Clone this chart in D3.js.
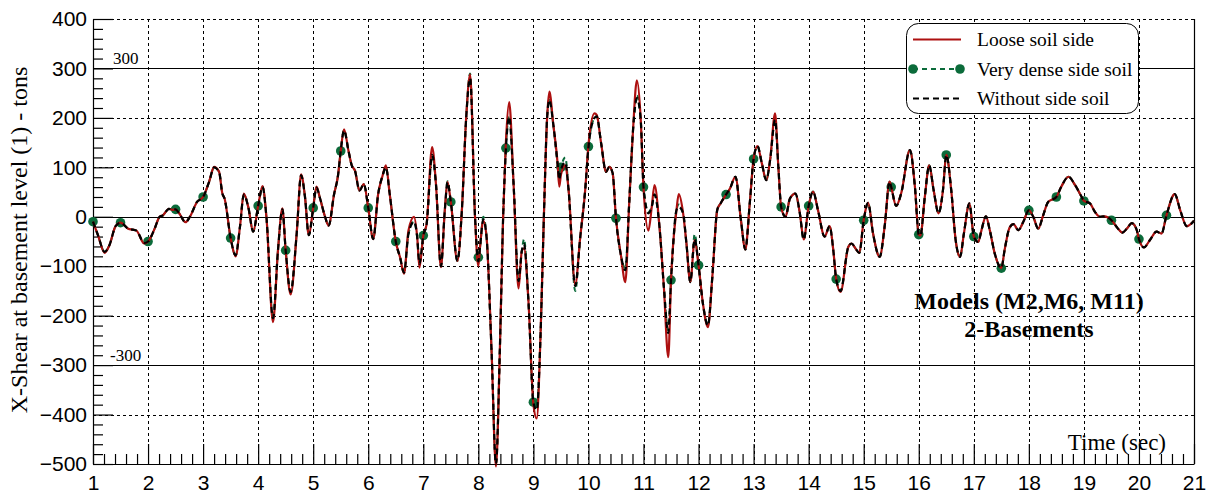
<!DOCTYPE html>
<html>
<head>
<meta charset="utf-8">
<script src="https://cdn.jsdelivr.net/npm/d3@7"></script>
<style>
  body { margin: 0; background: #fff; }
  svg { display: block; }
</style>
</head>
<body>
<svg id="chart" width="1211" height="493"></svg>
<script>
// Time samples (sec), grouped by second
const time = [
  [1.00,1.09,1.21,1.30,1.41,1.50,1.64,1.72,1.79,1.93],
  [2.00,2.12,2.21,2.27,2.38,2.44,2.50,2.56,2.68,2.76,2.89],
  [3.00,3.11,3.20,3.29,3.35,3.39,3.50,3.59,3.67,3.74,3.82,3.91],
  [4.00,4.08,4.15,4.27,4.36,4.44,4.50,4.59,4.70,4.78,4.85,4.92],
  [5.00,5.06,5.12,5.21,5.28,5.38,5.45,5.50,5.56,5.64,5.70,5.76,5.84,5.92],
  [6.00,6.09,6.18,6.26,6.32,6.39,6.50,6.58,6.65,6.73,6.83,6.89,6.93],
  [7.00,7.06,7.16,7.23,7.32,7.39,7.44,7.50,7.62,7.70,7.78,7.85,7.94],
  [8.00,8.03,8.09,8.15,8.24,8.32,8.39,8.45,8.50,8.56,8.64,8.73,8.79,8.83,8.91],
  [9.00,9.06,9.13,9.19,9.25,9.29,9.36,9.44,9.47,9.50,9.58,9.64,9.76,9.85,9.94],
  [10.00,10.11,10.15,10.23,10.32,10.38,10.44,10.50,10.59,10.67,10.74,10.81,10.88,10.95],
  [11.00,11.09,11.15,11.20,11.29,11.37,11.45,11.50,11.60,11.64,11.72,11.78,11.85,11.93],
  [12.00,12.08,12.17,12.25,12.34,12.40,12.50,12.57,12.67,12.77,12.85,12.93],
  [13.00,13.07,13.15,13.23,13.30,13.39,13.45,13.50,13.58,13.66,13.76,13.84,13.91],
  [14.00,14.08,14.17,14.29,14.38,14.45,14.50,14.58,14.72,14.78,14.85,14.92],
  [15.00,15.08,15.17,15.29,15.38,15.47,15.50,15.59,15.68,15.84,15.93],
  [16.00,16.03,16.11,16.19,16.27,16.36,16.44,16.50,16.59,16.67,16.75,16.82,16.92],
  [17.00,17.08,17.14,17.22,17.29,17.38,17.50,17.56,17.65,17.72,17.81,17.90],
  [18.00,18.08,18.17,18.26,18.35,18.50,18.59,18.72,18.84,18.96],
  [19.00,19.11,19.20,19.29,19.38,19.50,19.62,19.70,19.78,19.87,19.96],
  [20.00,20.09,20.20,20.32,20.41,20.50,20.65,20.75,20.87,21.00]
].flat();

// X-shear (tons) — model without side soil
const withoutSoil = [
  [-10,-37,-71,-57,-19,-12,-24,-26,-28,-53],
  [-50,-24,0,3,16,14,15,8,-11,0,30],
  [40,71,100,91,47,37,-43,-78,-20,45,20,-30],
  [22,60,0,-205,-68,15,-68,-152,-34,84,41,-37],
  [18,59,39,2,-18,46,83,133,175,134,104,93,53,66],
  [18,-45,46,83,100,46,-50,-83,-113,-35,-10,-42,-95],
  [-38,-15,125,66,-100,12,70,30,-89,12,202,280,-1],
  [-90,-62,-5,-42,-272,-500,-272,-1,135,202,66,-130,-69,-55,-171],
  [-375,-391,-238,-1,202,236,188,107,75,95,110,53,-140,-42,53],
  [140,200,203,149,91,101,88,-3,-78,-108,27,176,240,196],
  [60,7,20,45,-20,-142,-235,-128,14,20,7,-54,-132,-45],
  [-98,-176,-220,-122,14,27,45,57,81,-7,-66,27],
  [117,143,108,74,115,196,100,20,0,37,47,7,-46],
  [22,51,13,-40,-19,-70,-126,-150,-61,-54,-64,-73],
  [-7,28,-34,-81,-20,71,60,22,47,135,61],
  [-36,-38,40,104,54,7,54,125,54,-47,-81,-34,27],
  [-40,-51,-27,1,-27,-74,-104,-67,-22,-15,-27,-10],
  [13,0,-24,3,30,40,61,81,64,40],
  [32,27,10,0,1,-7,-24,-32,-24,-13,-27],
  [-45,-62,-47,-30,-34,3,46,13,-19,-8]
].flat();

// X-shear (tons) — loose soil side
const looseSoil = [
  [-10,-37,-73,-57,-19,-12,-24,-26,-28,-54],
  [-50,-24,0,3,16,14,15,8,-11,0,30],
  [40,71,101,91,47,37,-43,-80,-20,47,20,-30],
  [22,62,0,-213,-68,17,-68,-157,-34,86,41,-37],
  [18,61,39,2,-18,46,83,133,177,134,104,93,53,66],
  [18,-45,46,83,104,46,-50,-83,-115,-28,0,-42,-103],
  [-38,-15,141,66,-102,12,70,30,-89,12,202,288,-1],
  [-100,-62,-8,-42,-272,-505,-272,-1,150,232,66,-145,-69,-64,-171],
  [-380,-408,-238,-1,202,253,188,107,61,85,104,53,-137,-42,53],
  [145,209,206,149,91,101,88,-3,-78,-132,27,176,276,196],
  [60,-28,20,64,-20,-142,-284,-128,14,46,7,-54,-132,-47],
  [-98,-176,-223,-122,14,27,45,57,81,-7,-66,27],
  [117,143,108,74,115,209,100,20,0,37,47,7,-46],
  [22,51,13,-40,-19,-70,-126,-152,-61,-54,-64,-73],
  [-7,28,-34,-81,-20,71,60,22,47,135,61],
  [-36,-38,40,104,54,7,54,125,54,-47,-81,-34,27],
  [-40,-51,-27,1,-27,-74,-104,-67,-22,-15,-27,-10],
  [13,0,-24,3,30,40,61,81,64,40],
  [32,27,10,0,1,-7,-24,-32,-24,-13,-27],
  [-45,-62,-47,-30,-34,3,46,13,-19,-8]
].flat();

// X-shear (tons) — very dense side soil
const denseSoil = [
  [-10,-37,-71,-57,-19,-12,-24,-26,-28,-53],
  [-50,-24,0,3,16,14,15,8,-11,0,30],
  [40,71,100,91,47,37,-43,-78,-20,45,20,-30],
  [22,60,0,-205,-68,15,-68,-152,-34,84,41,-37],
  [18,59,39,2,-18,46,83,133,175,134,104,93,53,66],
  [18,-45,46,83,100,46,-50,-83,-113,-35,-10,-42,-95],
  [-38,-15,125,66,-100,12,72,30,-89,12,202,290,-1],
  [-82,-62,0,-42,-272,-500,-272,-1,139,205,66,-128,-69,-45,-171],
  [-375,-385,-238,-1,202,240,188,107,85,100,120,53,-150,-42,53],
  [142,200,203,149,91,101,88,-3,-78,-105,27,176,245,196],
  [60,10,20,45,-20,-142,-230,-128,14,25,7,-54,-132,-35],
  [-98,-176,-220,-122,14,27,45,57,81,-7,-66,27],
  [117,143,108,74,115,196,100,20,0,37,47,7,-46],
  [22,51,13,-40,-19,-70,-126,-150,-61,-54,-64,-73],
  [-7,28,-34,-81,-20,71,60,22,47,135,61],
  [-36,-38,40,104,54,7,54,125,54,-47,-81,-34,27],
  [-40,-51,-27,1,-27,-74,-104,-67,-22,-15,-27,-10],
  [13,0,-24,3,30,40,61,81,64,40],
  [32,27,10,0,1,-7,-24,-32,-24,-13,-27],
  [-45,-62,-47,-30,-34,3,46,13,-19,-8]
].flat();

// Axis ticks and reference levels
const xTicks = d3.range(1, 22);
const xMinorTicks = d3.range(1, 21.001, 0.2).filter(d => Math.abs(d - Math.round(d)) > 1e-6);
const yTicks = [-500, -400, -300, -200, -100, 0, 100, 200, 300, 400];
const yMinorTicks = d3.range(-500, 401, 20).filter(d => d % 100 !== 0);
const refLevels = [300, -300];
const refLabels = ["300", "-300"];
const seriesNames = ["Loose soil side", "Very dense side soil", "Without side soil"];
const noteLines = ["Models (M2,M6, M11)", "2-Basements"];
const markerStep = 0.5;   // dense-soil markers every half second
const markerEnd = 20.5;   // last marked sample

const colors = { loose: "#ad1010", dense: "#0b6b3a", without: "#000" };

const svg = d3.select("#chart");
const x = d3.scaleLinear().domain([1, 21]).range([93, 1194]);
const y = d3.scaleLinear().domain([-500, 400]).range([464, 19]);
const px = v => Math.round(v) + 0.5;

// Grid
const grid = svg.append("g");
grid.selectAll("line.v").data(xTicks.filter(d => d > 1 && d < 21)).join("line")
  .attr("x1", d => px(x(d))).attr("x2", d => px(x(d)))
  .attr("y1", y(400)).attr("y2", y(-500))
  .attr("stroke", "#000").attr("stroke-width", 1).attr("stroke-dasharray", "3,3");
grid.selectAll("line.h").data(yTicks.filter(d => d > -500 && d !== 0 && !refLevels.includes(d))).join("line")
  .attr("x1", x(1)).attr("x2", x(21))
  .attr("y1", d => px(y(d))).attr("y2", d => px(y(d)))
  .attr("stroke", "#000").attr("stroke-width", 1).attr("stroke-dasharray", "3,3");
// Solid lines at zero and at the +/-300 levels
grid.selectAll("line.s").data([0, ...refLevels]).join("line")
  .attr("x1", x(1)).attr("x2", x(21))
  .attr("y1", d => px(y(d))).attr("y2", d => px(y(d)))
  .attr("stroke", "#000").attr("stroke-width", 1.2);
grid.selectAll("text.ref").data(refLevels).join("text")
  .attr("x", (d, i) => i === 0 ? 113 : 110)
  .attr("y", d => y(d) - 4)
  .attr("font-family", "Liberation Serif, Times New Roman, serif")
  .attr("font-size", 17)
  .text((d, i) => refLabels[i]);

// Right frame
svg.append("line")
  .attr("x1", px(x(21))).attr("x2", px(x(21)))
  .attr("y1", y(400)).attr("y2", y(-500))
  .attr("stroke", "#000").attr("stroke-width", 1.2);

// Axes
const axisFont = "Liberation Sans, Arial, sans-serif";
const xAxis = svg.append("g").attr("transform", `translate(0,${y(-500)})`)
  .call(d3.axisBottom(x).tickValues(xTicks).tickSizeInner(-20).tickSizeOuter(0)
    .tickPadding(11).tickFormat(d3.format("d")));
svg.append("g").attr("transform", `translate(0,${y(-500)})`)
  .call(d3.axisBottom(x).tickValues(xMinorTicks).tickSizeInner(-10).tickSizeOuter(0).tickFormat(""))
  .call(g => g.select(".domain").remove());
const yAxis = svg.append("g").attr("transform", `translate(${x(1)},0)`)
  .call(d3.axisLeft(y).tickValues(yTicks).tickSizeInner(-20).tickSizeOuter(0)
    .tickPadding(6).tickFormat(d3.format("d")));
svg.append("g").attr("transform", `translate(${x(1)},0)`)
  .call(d3.axisLeft(y).tickValues(yMinorTicks).tickSizeInner(-10).tickSizeOuter(0).tickFormat(""))
  .call(g => g.select(".domain").remove());
[xAxis, yAxis].forEach(a => {
  a.attr("font-family", axisFont).attr("font-size", 21);
  a.selectAll("text").attr("fill", "#000");
  a.selectAll("line, path").attr("stroke", "#000").attr("stroke-width", 1.2);
});
svg.selectAll(".tick line").attr("stroke", "#000").attr("stroke-width", 1.2);

// Series
const rows = vals => time.map((t, i) => ({ t, v: vals[i] }));
const denseData = rows(denseSoil);
const looseData = rows(looseSoil);
const withoutData = rows(withoutSoil);
const line = d3.line().x(d => x(d.t)).y(d => y(d.v)).curve(d3.curveMonotoneX);

svg.append("path").datum(denseData)
  .attr("d", line).attr("fill", "none")
  .attr("stroke", colors.dense).attr("stroke-width", 2).attr("stroke-dasharray", "5,4");
svg.selectAll("circle.mk")
  .data(denseData.filter(d => d.t <= markerEnd + 1e-6 &&
    Math.abs(d.t / markerStep - Math.round(d.t / markerStep)) < 1e-6))
  .join("circle")
  .attr("cx", d => x(d.t)).attr("cy", d => y(d.v)).attr("r", 4.8)
  .attr("fill", colors.dense);
svg.append("path").datum(looseData)
  .attr("d", line).attr("fill", "none")
  .attr("stroke", colors.loose).attr("stroke-width", 2.2);
svg.append("path").datum(withoutData)
  .attr("d", line).attr("fill", "none")
  .attr("stroke", colors.without).attr("stroke-width", 2.2).attr("stroke-dasharray", "6,4");

// Legend
const serif = "Liberation Serif, Times New Roman, serif";
const legend = svg.append("g");
legend.append("rect")
  .attr("x", 906.5).attr("y", 23.5).attr("width", 232).attr("height", 90).attr("rx", 12)
  .attr("fill", "#fff").attr("stroke", "#000").attr("stroke-width", 1);
const legendRows = [
  { name: seriesNames[0], color: colors.loose, dash: null, marker: false },
  { name: seriesNames[1], color: colors.dense, dash: "5,4", marker: true },
  { name: seriesNames[2], color: colors.without, dash: "6,4", marker: false }
];
legendRows.forEach((r, i) => {
  const cy = 39.5 + i * 29.5;
  legend.append("line")
    .attr("x1", 913).attr("x2", 961).attr("y1", cy).attr("y2", cy)
    .attr("stroke", r.color).attr("stroke-width", 2)
    .attr("stroke-dasharray", r.dash);
  if (r.marker) {
    [913, 960].forEach(cx => legend.append("circle")
      .attr("cx", cx).attr("cy", cy).attr("r", 4.8).attr("fill", r.color));
  }
  legend.append("text")
    .attr("x", 977).attr("y", cy + 6.5)
    .attr("font-family", serif).attr("font-size", 19.5)
    .text(r.name);
});

// Model note
svg.selectAll("text.note").data(noteLines).join("text")
  .attr("x", 1029).attr("y", (d, i) => 309 + i * 28)
  .attr("text-anchor", "middle")
  .attr("font-family", serif).attr("font-size", 24).attr("font-weight", "bold")
  .text(d => d);

// Axis titles
svg.append("text")
  .attr("x", 1166).attr("y", 450).attr("text-anchor", "end")
  .attr("font-family", serif).attr("font-size", 23)
  .text("Time (sec)");
svg.append("text")
  .attr("transform", "translate(27,240) rotate(-90)")
  .attr("text-anchor", "middle")
  .attr("font-family", serif).attr("font-size", 24)
  .text("X-Shear at basement level (1) - tons");
</script>
</body>
</html>
